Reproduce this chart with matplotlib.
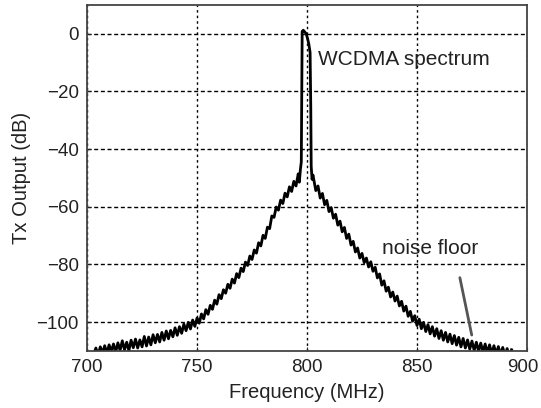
import numpy as np
import matplotlib
matplotlib.use("Agg")
import matplotlib.pyplot as plt
import matplotlib.transforms as mtransforms

plt.rcParams['font.family'] = ['Liberation Sans', 'DejaVu Sans']

# lower skirt, left side (1 MHz steps from 703 to 796)
left_freq = np.arange(703, 797)
left_db = [-111.2, -109.0, -111.5, -108.6, -110.8, -108.2, -110.9, -107.9, -110.2, -107.6,
           -110.4, -107.2, -109.8, -106.5, -109.6, -107.0, -109.9, -106.3, -108.9, -105.9,
           -109.0, -106.2, -108.6, -105.0, -108.3, -105.2, -107.9, -104.4, -107.2, -104.3,
           -106.9, -103.6, -106.3, -103.1, -105.8, -102.9, -105.1, -102.0, -104.6, -101.6,
           -103.9, -100.7, -103.0, -100.1, -102.4, -99.3, -101.5, -98.6, -100.4, -97.2,
           -98.9, -95.7, -97.3, -94.2, -95.6, -92.4, -93.8, -90.5, -91.9, -88.8,
           -90.0, -86.9, -88.3, -85.1, -86.5, -83.2, -84.6, -81.3, -82.5, -79.2,
           -80.4, -77.1, -78.3, -75.0, -76.1, -72.5, -73.6, -69.9, -71.0, -67.1,
           -67.6, -63.2, -63.7, -60.1, -61.2, -57.7, -58.9, -55.3, -56.6, -53.1,
           -54.7, -51.2, -52.8, -48.6]

# main channel
peak_freq = [796.5, 797.0, 797.4, 797.6, 797.8, 798.3, 799.0, 799.6, 800.2, 800.8,
             801.4, 801.7, 801.9, 802.3, 802.7]
peak_db = [-51.5, -47.0, -44.5, -20.0, 0.8, 1.2, 0.6, 0.0, -1.5, -3.5,
           -6.5, -25.0, -46.0, -50.5, -49.0]

# right side (1 MHz steps from 803 to 893)
right_freq = np.arange(803, 894)
right_db = [-50.2, -54.4, -52.8, -57.0, -55.4, -59.3, -57.8, -61.7, -60.3, -64.0,
            -62.6, -66.4, -65.0, -68.7, -67.2, -71.0, -69.5, -73.3, -72.0, -75.7,
            -74.3, -77.8, -76.2, -79.4, -77.8, -80.9, -79.1, -82.4, -81.0, -84.7,
            -83.3, -87.2, -85.7, -89.3, -87.9, -91.3, -89.6, -92.7, -91.0, -94.4,
            -92.8, -96.2, -94.5, -98.0, -96.3, -99.7, -97.8, -101.2, -99.0, -102.3,
            -100.1, -103.3, -100.9, -104.1, -101.6, -104.9, -102.3, -105.7, -103.0, -106.3,
            -103.6, -106.9, -104.2, -107.5, -104.7, -108.0, -105.3, -108.6, -105.7, -109.0,
            -106.2, -109.4, -106.6, -109.8, -107.0, -110.1, -107.3, -110.4, -107.6, -110.7,
            -107.9, -111.0, -108.2, -111.2, -108.5, -111.4, -108.8, -111.6, -109.2, -111.8,
            -109.6]

freq = np.concatenate([left_freq, peak_freq, right_freq])
db = np.concatenate([left_db, peak_db, right_db])

fig = plt.figure(figsize=(5.41, 4.08), dpi=100)
ax = fig.add_axes([0.161, 0.14, 0.813, 0.848])

ax.plot(freq, db, color='black', lw=2.0)

ax.set_xlim(700, 900)
ax.set_ylim(-110, 10)
ax.set_xticks([700, 750, 800, 850, 900])
ax.set_yticks([0, -20, -40, -60, -80, -100])

ax.yaxis.grid(True, color='black', lw=1, linestyle=(0, (2.9, 1.9)))
ax.xaxis.grid(True, color='black', lw=1, linestyle=(0, (1.8, 2.2)))

for s in ax.spines.values():
    s.set_color('#444444')
    s.set_linewidth(1.3)

ax.tick_params(direction='in', length=3, labelsize=13.5, colors='#222222', pad=6)
ax.set_xlabel("Frequency (MHz)", fontsize=14.5, color='#222222', labelpad=5)
ax.set_ylabel("Tx Output (dB)", fontsize=14.5, color='#222222', labelpad=4)

# nudge the last x label so it stays inside the figure
last = ax.get_xticklabels()[-1]
last.set_transform(last.get_transform() + mtransforms.ScaledTranslation(-4 / 100, 0, fig.dpi_scale_trans))

ax.text(805, -8.9, "WCDMA spectrum", fontsize=15, color='#222222', ha='left', va='center')
ax.text(855.9, -74.5, "noise floor", fontsize=15, color='#222222', ha='center', va='center')
ax.annotate("", xy=(874.9, -104.5), xytext=(869.5, -84.6),
            arrowprops=dict(arrowstyle='-', color='#555555', lw=2, shrinkA=0, shrinkB=0))

fig.savefig("out.png", dpi=100)
